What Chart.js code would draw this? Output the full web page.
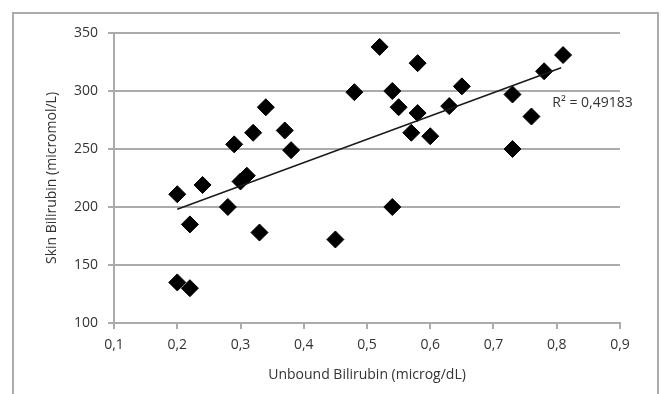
<!DOCTYPE html>
<html>
<head>
<meta charset="utf-8">
<script src="https://cdn.jsdelivr.net/npm/chart.js@4.4.0/dist/chart.umd.min.js"></script>
<style>
  html, body { margin: 0; padding: 0; background: #fff; }
  #wrap { width: 661px; height: 394px; position: relative; }
</style>
</head>
<body>
<div id="wrap"><canvas id="chart"></canvas></div>
<script>
// unbound bilirubin (microg/dL) vs skin bilirubin (micromol/L)
const unboundX = [0.20, 0.24, 0.22, 0.20, 0.22, 0.28, 0.29, 0.30, 0.31, 0.32, 0.34, 0.33,
                  0.37, 0.38, 0.45, 0.48, 0.52, 0.58, 0.54, 0.55, 0.58, 0.57, 0.60, 0.63,
                  0.65, 0.54, 0.73, 0.73, 0.76, 0.78, 0.81];
const skinY = [211, 219, 185, 135, 130, 200, 254, 222, 227, 264, 286, 178,
               266, 249, 172, 299, 338, 324, 300, 286, 281, 264, 261, 287,
               304, 200, 297, 250, 278, 317, 331];

// linear trendline ends
const trendX = [0.20, 0.807];
const trendY = [198, 320];
const r2Label = 'R\u00B2 = 0,49183';

const xTitle = 'Unbound Bilirubin (microg/dL)';
const yTitle = 'Skin Bilirubin (micromol/L)';

const gray = '#ababab';
const textColor = '#333333';
const font = { family: 'Open Sans', size: 14 };

const points = unboundX.map((x, i) => ({ x: x, y: skinY[i] }));
const trend = trendX.map((x, i) => ({ x: x, y: trendY[i] }));

// frame around the whole chart + R2 text
const extras = {
    id: 'extras',
    beforeDraw(chart) {
        const ctx = chart.ctx;
        ctx.save();
        ctx.strokeStyle = gray;
        ctx.lineWidth = 2;
        ctx.strokeRect(13, 13, chart.width - 16, chart.height + 20);
        ctx.restore();
    },
    afterDraw(chart) {
        const ctx = chart.ctx;
        const xs = chart.scales.x, ys = chart.scales.y;
        ctx.save();
        ctx.font = '14px "Open Sans"';
        ctx.fillStyle = textColor;
        ctx.textAlign = 'left';
        ctx.textBaseline = 'middle';
        ctx.fillText(r2Label, xs.getPixelForValue(0.793), ys.getPixelForValue(290));
        ctx.restore();
    }
};

new Chart(document.getElementById('chart'), {
    type: 'scatter',
    data: {
        datasets: [
            {
                label: 'data',
                data: points,
                pointStyle: 'rectRot',
                pointRadius: 8.5,
                pointHoverRadius: 8.5,
                backgroundColor: '#000',
                borderColor: '#000',
                borderWidth: 1,
                order: 2
            },
            {
                label: 'trend',
                data: trend,
                showLine: true,
                pointRadius: 0,
                borderColor: '#1a1a1a',
                borderWidth: 1.5,
                fill: false,
                order: 1
            }
        ]
    },
    options: {
        responsive: true,
        maintainAspectRatio: false,
        animation: false,
        layout: { padding: { top: 33, right: 41, left: 0, bottom: 0 } },
        plugins: {
            legend: { display: false },
            tooltip: { enabled: false }
        },
        scales: {
            x: {
                type: 'linear',
                min: 0.1,
                max: 0.9,
                afterFit: s => { s.height = 71; },
                ticks: {
                    stepSize: 0.1,
                    padding: 8,
                    color: textColor,
                    font: font,
                    callback: v => v.toFixed(1).replace('.', ',')
                },
                grid: { drawOnChartArea: false, color: gray, lineWidth: 2, tickLength: 6 },
                border: { color: gray, width: 2 },
                title: {
                    display: true,
                    text: xTitle,
                    color: textColor,
                    font: font,
                    padding: { top: 0, bottom: 11 }
                }
            },
            y: {
                min: 100,
                max: 350,
                afterFit: s => { s.width = 114; },
                ticks: {
                    stepSize: 50,
                    padding: 10,
                    color: textColor,
                    font: font
                },
                grid: { color: gray, lineWidth: 2, tickLength: 6 },
                border: { color: gray, width: 2 },
                title: {
                    display: true,
                    text: yTitle,
                    color: textColor,
                    font: font,
                    padding: { top: 44, bottom: 0 }
                }
            }
        }
    },
    plugins: [extras]
});
</script>
</body>
</html>
